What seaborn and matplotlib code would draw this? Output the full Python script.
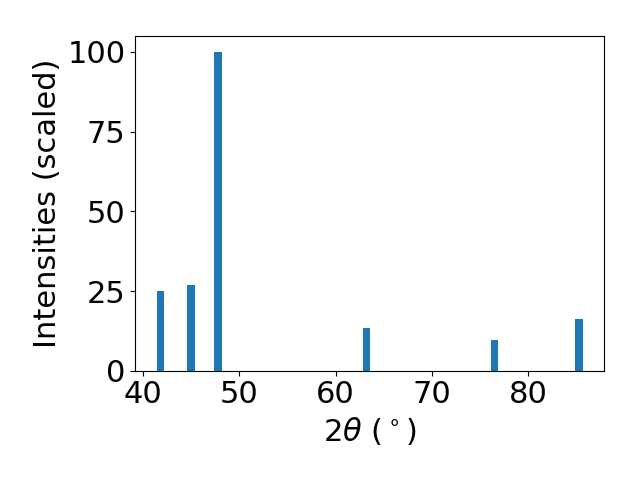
import seaborn as sns
import matplotlib.pyplot as plt

# peak positions (2theta, degrees) and scaled intensities
two_theta = [41.8, 45.0, 47.8, 63.2, 76.5, 85.3]
intensity = [25.1, 27.0, 100.0, 13.5, 9.7, 16.3]

plt.rcParams['font.size'] = 22

fig, ax = plt.subplots(figsize=(6.4, 4.8), dpi=100)
# width is relative to the smallest peak spacing with native_scale
sns.barplot(x=two_theta, y=intensity, native_scale=True, width=0.8 / 2.8,
            color='#1f77b4', saturation=1, errorbar=None, ax=ax)
ax.set_xlabel(r'$2\theta$ ($^\circ$)')
ax.set_ylabel('Intensities (scaled)')
ax.set_yticks([0, 25, 50, 75, 100])
plt.tight_layout()
fig.subplots_adjust(top=0.925, right=0.944)
plt.savefig('out.png')
